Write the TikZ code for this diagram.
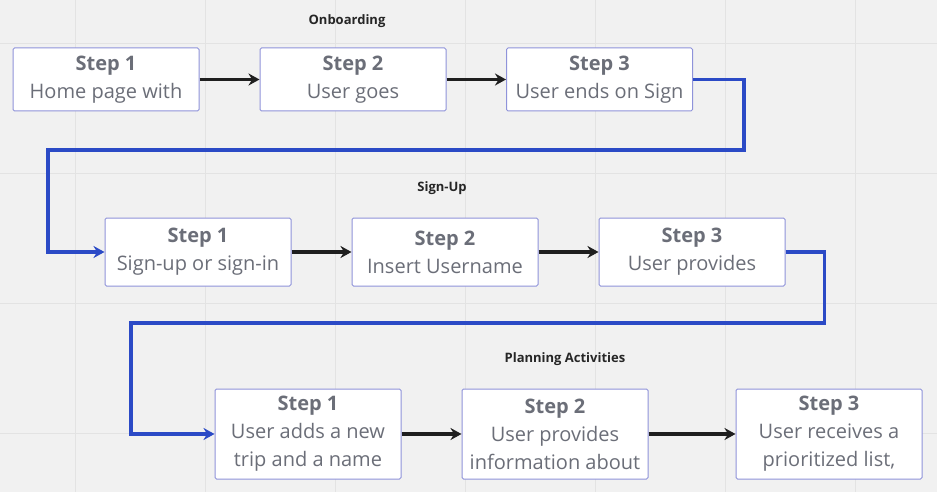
\documentclass[tikz,border=0pt]{standalone}
\usepackage{fontspec}
\setmainfont{Open Sans}
\usetikzlibrary{arrows.meta}
\definecolor{bgc}{HTML}{F1F1F1}
\definecolor{gridc}{HTML}{E3E3E3}
\definecolor{boxc}{HTML}{8F93DA}
\definecolor{txtc}{HTML}{6B6E78}
\definecolor{flowc}{HTML}{2B4AC6}
\tikzset{
  stepbox/.style={draw=boxc,line width=1pt,fill=white,rounded corners=1.5pt,minimum width=186pt,
    align=center,text=txtc,font=\fontsize{20}{28}\selectfont,inner sep=0pt},
  title/.style={font=\bfseries\fontsize{13}{15}\selectfont,text=black!85},
  next/.style={-{Stealth[length=11pt,width=12pt]},line width=3.5pt,draw=black!88},
  flow/.style={-{Stealth[length=11pt,width=12pt]},line width=3.5pt,draw=flowc}
}
\begin{document}
\begin{tikzpicture}[x=1pt,y=-1pt]
  \fill[bgc] (0,0) rectangle (937,492);
  \useasboundingbox (0,0) rectangle (937,492);
  \foreach \gx in {75,205,335,465,595,725,855}
    \draw[gridc] (\gx,0) -- (\gx,492);
  \foreach \gy in {43,173,303,433}
    \draw[gridc] (0,\gy) -- (937,\gy);

  \node[title] (onb) at (347,21) {Onboarding};
  \node[stepbox,minimum height=63pt] (o1) at (106,79.5) {\textbf{Step 1}\\Home page with};
  \node[stepbox,minimum height=63pt] (o2) at (353,79.5) {\textbf{Step 2}\\User goes};
  \node[stepbox,minimum height=63pt] (o3) at (599.5,79.5) {\textbf{Step 3}\\User ends on Sign};

  \node[title] (sgn) at (442,188) {Sign-Up};
  \node[stepbox,minimum height=68pt] (s1) at (198,252) {\textbf{Step 1}\\Sign-up or sign-in};
  \node[stepbox,minimum height=68pt] (s2) at (445,252) {\textbf{Step 2}\\Insert Username};
  \node[stepbox,minimum height=68pt] (s3) at (692,252) {\textbf{Step 3}\\User provides};

  \node[title] (pln) at (565,359) {Planning Activities};
  \node[stepbox,minimum height=90pt] (p1) at (308,434) {\textbf{Step 1}\\User adds a new\\trip and a name};
  \node[stepbox,minimum height=90pt] (p2) at (555,434) {\textbf{Step 2}\\User provides\\information about};
  \node[stepbox,minimum height=90pt] (p3) at (829,434) {\textbf{Step 3}\\User receives a\\prioritized list,};

  \draw[next] (o1) -- (o2);
  \draw[next] (o2) -- (o3);
  \draw[next] (s1) -- (s2);
  \draw[next] (s2) -- (s3);
  \draw[next] (p1) -- (p2);
  \draw[next] (p2) -- (p3);

  \draw[flow] (o3.east) -- ++(51,0) |- (48,150) |- (s1.west);
  \draw[flow] (s3.east) -- ++(39,0) |- (131,323) |- (p1.west);
\end{tikzpicture}
\end{document}
